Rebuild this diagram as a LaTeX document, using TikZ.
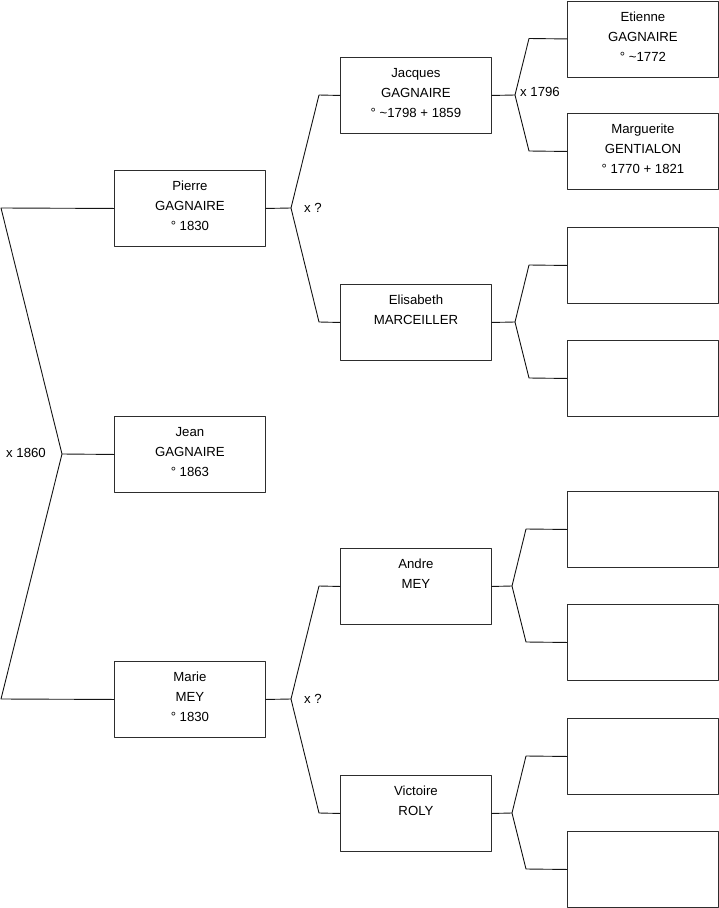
\documentclass[tikz,border=0pt]{standalone}
\usepackage{fontspec}
\setmainfont{Liberation Sans}
\usetikzlibrary{positioning}
\definecolor{treeLine}{RGB}{20, 20, 20}
\definecolor{boxLine}{RGB}{45, 45, 45}

\tikzset{
  person/.style={draw=boxLine, line width=0.9pt, anchor=north west, inner sep=0pt,
                 font=\fontsize{13.2}{20}\selectfont},
  link/.style={draw=treeLine, line width=0.9pt},
  union/.style={inner sep=0pt, font=\fontsize{13.2}{15}\selectfont}
}
\newcommand{\card}[1]{\parbox[t][76pt][t]{151pt}{\centering\rule{0pt}{20.5pt}#1}}

\begin{document}
\begin{tikzpicture}[x=1pt, y=-1pt, line cap=round, line join=round]
        \useasboundingbox (0,0) rectangle (719,908);
        % generation 1 and 2
        \node[person] (jean) at (114,416) {\card{Jean\\GAGNAIRE\\° 1863}};
        \node[person] (pierre) at (114,170) {\card{Pierre\\GAGNAIRE\\° 1830}};
        \node[person] (marie) at (114,661) {\card{Marie\\MEY\\° 1830}};
        % generation 3
        \node[person] (jacques) at (340,57) {\card{Jacques\\GAGNAIRE\\° \textasciitilde1798 + 1859}};
        \node[person] (elisabeth) at (340,284) {\card{Elisabeth\\MARCEILLER}};
        \node[person] (andre) at (340,548) {\card{Andre\\MEY}};
        \node[person] (victoire) at (340,775) {\card{Victoire\\ROLY}};
        % generation 4
        \node[person] (etienne) at (567,0.5) {\card{Etienne\\GAGNAIRE\\° \textasciitilde1772}};
        \node[person] (marguerite) at (567,113) {\card{Marguerite\\GENTIALON\\° 1770 + 1821}};
        \node[person] (elisabethF) at (567,227) {\card{}};
        \node[person] (elisabethM) at (567,340) {\card{}};
        \node[person] (andreF) at (567,491) {\card{}};
        \node[person] (andreM) at (567,604) {\card{}};
        \node[person] (victoireF) at (567,718) {\card{}};
        \node[person] (victoireM) at (567,831) {\card{}};

        % fork of Pierre and Marie
        \coordinate (forkJean) at (62,454);
        \coordinate (pierreBend) at (1,208);
        \coordinate (marieBend) at (1,699);
        \draw[link] (pierre.west) -- (pierreBend) -- (forkJean) -- (marieBend) -- (marie.west);
        \draw[link] (forkJean) -- (jean.west);
        \node[union, left=16pt of forkJean, yshift=1pt] (weddingJean) {x 1860};

        % fork of Jacques and Elisabeth
        \coordinate (forkPierre) at (291,208);
        \coordinate (jacquesBend) at (319,95);
        \coordinate (elisabethBend) at (319,322);
        \draw[link] (pierre.east) -- (forkPierre);
        \draw[link] (jacques.west) -- (jacquesBend) -- (forkPierre) -- (elisabethBend) -- (elisabeth.west);
        \node[union, right=13pt of forkPierre] (weddingPierre) {x ?};

        % fork of Andre and Victoire
        \coordinate (forkMarie) at (291,699);
        \coordinate (andreBend) at (319,586);
        \coordinate (victoireBend) at (319,813);
        \draw[link] (marie.east) -- (forkMarie);
        \draw[link] (andre.west) -- (andreBend) -- (forkMarie) -- (victoireBend) -- (victoire.west);
        \node[union, right=13pt of forkMarie] (weddingMarie) {x ?};

        % fork of Etienne and Marguerite
        \coordinate (forkJacques) at (515,95);
        \coordinate (etienneBend) at (529,38.5);
        \coordinate (margueriteBend) at (529,151);
        \draw[link] (jacques.east) -- (forkJacques);
        \draw[link] (etienne.west) -- (etienneBend) -- (forkJacques) -- (margueriteBend) -- (marguerite.west);
        \node[union, right=5pt of forkJacques, yshift=3pt] (weddingJacques) {x 1796};

        % forks with no names
        \coordinate (forkElisabeth) at (515,322);
        \coordinate (elisabethFBend) at (529,265);
        \coordinate (elisabethMBend) at (529,378);
        \draw[link] (elisabeth.east) -- (forkElisabeth);
        \draw[link] (elisabethF.west) -- (elisabethFBend) -- (forkElisabeth) -- (elisabethMBend) -- (elisabethM.west);
        \coordinate (forkAndre) at (512,586);
        \coordinate (andreFBend) at (526,529);
        \coordinate (andreMBend) at (526,642);
        \draw[link] (andre.east) -- (forkAndre);
        \draw[link] (andreF.west) -- (andreFBend) -- (forkAndre) -- (andreMBend) -- (andreM.west);
        \coordinate (forkVictoire) at (512,813);
        \coordinate (victoireFBend) at (526,756);
        \coordinate (victoireMBend) at (526,869);
        \draw[link] (victoire.east) -- (forkVictoire);
        \draw[link] (victoireF.west) -- (victoireFBend) -- (forkVictoire) -- (victoireMBend) -- (victoireM.west);
    \end{tikzpicture}
\end{document}
